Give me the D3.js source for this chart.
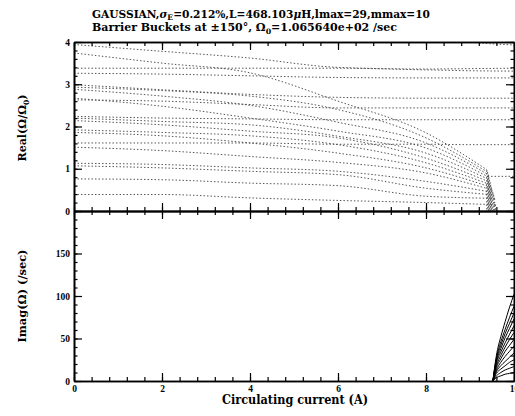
<!DOCTYPE html>
<html>
<head>
<style>
  body { margin: 0; background: #fff; }
  svg { display: block; }
  .tl text { font-family: "Liberation Serif", Times, serif; font-weight: bold; font-size: 9.5px; fill: #000; }
  .lbl { font-family: "DejaVu Serif", "Liberation Serif", serif; font-weight: bold; fill: #000; }
</style>
<script src="https://d3js.org/d3.v7.min.js"></script>
</head>
<body>
<script>
// mode frequencies vs circulating current
const currentGrid = [0, 2, 4, 6, 8, 9, 10];

// real parts that survive to 10 A
const realKept = [
  [4.70, 4.55, 4.40, 4.28, 4.15, 4.00, 3.93],
  [3.94, 3.78, 3.62, 3.40, 3.36, 3.37, 3.38],
  [3.38, 3.38, 3.38, 3.38, 3.34, 3.32, 3.31],
  [3.26, 3.24, 3.20, 3.16, 3.15, 3.15, 3.15],
  [2.99, 2.87, 2.76, 2.69, 2.67, 2.67, 2.67],
  [2.63, 2.60, 2.52, 2.44, 2.44, 2.44, 2.44],
  [2.24, 2.20, 2.18, 2.16, 2.16, 2.16, 2.16],
  [1.61, 1.61, 1.61, 1.58, 1.58, 1.57, 1.57]
];
const lateCurrent = [9.4, 10];
const lateValue = [0.82, 0.82];

// real parts that collapse near 9.5 A (values at 0,2,4,6,8 A)
const dropGrid = [0, 2, 4, 6, 8];
const realDropped = [
  [3.74, 3.50, 3.27, 2.60, 1.85],
  [2.93, 2.85, 2.72, 2.40, 1.73],
  [2.88, 2.72, 2.50, 2.10, 1.61],
  [2.67, 2.48, 2.20, 1.89, 1.49],
  [2.20, 2.12, 2.04, 1.77, 1.37],
  [2.14, 2.04, 1.89, 1.73, 1.25],
  [1.92, 1.86, 1.78, 1.57, 1.14],
  [1.86, 1.78, 1.61, 1.37, 1.02],
  [1.51, 1.43, 1.29, 1.15, 0.90],
  [1.13, 1.10, 1.02, 0.94, 0.70],
  [1.07, 1.02, 0.94, 0.86, 0.54],
  [0.76, 0.74, 0.66, 0.60, 0.35],
  [0.39, 0.39, 0.31, 0.25, 0.20]
];
const dropEndCurrent = [9.38, 9.40, 9.42, 9.43, 9.44, 9.46, 9.47, 9.49, 9.50, 9.52, 9.54, 9.56, 9.58];
const dropEndValue = [0.98, 0.92, 0.86, 0.80, 0.74, 0.68, 0.62, 0.56, 0.50, 0.44, 0.38, 0.30, 0.15];

// imaginary parts
const imagCurrent = [9.52, 9.6, 9.7, 9.8, 9.9, 10];
const imagValues = [
  [0, 30, 52, 70, 87, 102],
  [0, 27, 46, 61, 75, 88],
  [0, 25, 42, 56, 68, 80],
  [0, 23, 38, 51, 62, 73],
  [0, 21, 34, 45, 55, 65],
  [0, 18, 30, 40, 49, 57],
  [0, 16, 26, 35, 42, 49],
  [0, 13, 22, 29, 35, 41],
  [0, 11, 18, 23, 28, 33],
  [0, 9, 14, 18, 22, 25],
  [0, 6, 10, 13, 15, 17],
  [0, 4, 6, 8, 9, 10]
];

const xMajor = [0, 2, 4, 6, 8, 10];
const xMinor = d3.range(0, 10.01, 0.4);
const yTopMajor = [0, 1, 2, 3, 4];
const yTopMinor = d3.range(0, 4.01, 0.2);
const yBotMajor = [0, 50, 100, 150, 200];
const yBotLabels = [0, 50, 100, 150];
const yBotMinor = d3.range(0, 200.1, 10);

const svg = d3.select('body').append('svg')
  .attr('width', 515).attr('height', 416);

const x = d3.scaleLinear().domain([0, 10]).range([74, 514]);
const yTop = d3.scaleLinear().domain([0, 4]).range([211, 42]);
const yBot = d3.scaleLinear().domain([0, 200]).range([381, 211]);

svg.append('clipPath').attr('id', 'clipTop')
  .append('rect').attr('x', 74).attr('y', 42).attr('width', 440).attr('height', 169);

const topG = svg.append('g').attr('clip-path', 'url(#clipTop)');
const dotted = g => g.attr('fill', 'none').attr('stroke', '#444')
  .attr('stroke-width', 0.9).attr('stroke-dasharray', '1.5,2');

const lineTop = d3.line().x(d => x(d[0])).y(d => yTop(d[1])).curve(d3.curveMonotoneX);

realKept.forEach(vals => {
  topG.append('path').datum(currentGrid.map((c, i) => [c, vals[i]]))
    .attr('d', lineTop).call(dotted);
});
topG.append('path').datum(lateCurrent.map((c, i) => [c, lateValue[i]]))
  .attr('d', lineTop).call(dotted);

realDropped.forEach((vals, k) => {
  const pts = dropGrid.map((c, i) => [c, vals[i]]);
  pts.push([dropEndCurrent[k], dropEndValue[k]]);
  topG.append('path').datum(pts).attr('d', lineTop).call(dotted);
  topG.append('path')
    .datum([[dropEndCurrent[k], dropEndValue[k]], [dropEndCurrent[k], 0]])
    .attr('d', d3.line().x(d => x(d[0])).y(d => yTop(d[1])))
    .call(dotted);
});

const lineBot = d3.line().x(d => x(d[0])).y(d => yBot(d[1])).curve(d3.curveMonotoneX);
imagValues.forEach(vals => {
  svg.append('path').datum(imagCurrent.map((c, i) => [c, vals[i]]))
    .attr('d', lineBot).attr('fill', 'none').attr('stroke', '#000').attr('stroke-width', 1);
});

// axes, ticks pointing inward
const addAxis = (axis, tx, ty) => {
  const g = svg.append('g').attr('class', 'tl')
    .attr('transform', `translate(${tx},${ty})`).call(axis);
  g.selectAll('path.domain').attr('stroke-width', 1.6);
  g.selectAll('line').attr('stroke-width', 1.2);
  g.attr('font-family', null).attr('font-size', null);
  return g;
};
const noLabel = () => '';

// top panel
addAxis(d3.axisLeft(yTop).tickValues(yTopMinor).tickSize(-3.5).tickSizeOuter(0).tickFormat(noLabel), 74, 0);
addAxis(d3.axisLeft(yTop).tickValues(yTopMajor).tickSize(-8).tickSizeOuter(0).tickPadding(4).tickFormat(d3.format('d')), 74, 0);
addAxis(d3.axisRight(yTop).tickValues(yTopMinor).tickSize(-3.5).tickSizeOuter(0).tickFormat(noLabel), 514, 0);
addAxis(d3.axisRight(yTop).tickValues(yTopMajor).tickSize(-8).tickSizeOuter(0).tickFormat(noLabel), 514, 0);
addAxis(d3.axisTop(x).tickValues(xMinor).tickSize(-4).tickSizeOuter(0).tickFormat(noLabel), 0, 42);
addAxis(d3.axisTop(x).tickValues(xMajor).tickSize(-8).tickSizeOuter(0).tickFormat(noLabel), 0, 42);
addAxis(d3.axisBottom(x).tickValues(xMinor).tickSize(-4).tickSizeOuter(0).tickFormat(noLabel), 0, 211);
addAxis(d3.axisBottom(x).tickValues(xMajor).tickSize(-8).tickSizeOuter(0).tickFormat(noLabel), 0, 211);

// bottom panel
addAxis(d3.axisLeft(yBot).tickValues(yBotMinor).tickSize(-3.5).tickSizeOuter(0).tickFormat(noLabel), 74, 0);
addAxis(d3.axisLeft(yBot).tickValues(yBotMajor).tickSize(-8).tickSizeOuter(0).tickPadding(4)
  .tickFormat(d => yBotLabels.includes(d) ? d : ''), 74, 0);
addAxis(d3.axisRight(yBot).tickValues(yBotMinor).tickSize(-3.5).tickSizeOuter(0).tickFormat(noLabel), 514, 0);
addAxis(d3.axisRight(yBot).tickValues(yBotMajor).tickSize(-8).tickSizeOuter(0).tickFormat(noLabel), 514, 0);
addAxis(d3.axisTop(x).tickValues(xMinor).tickSize(-4).tickSizeOuter(0).tickFormat(noLabel), 0, 211);
addAxis(d3.axisTop(x).tickValues(xMajor).tickSize(-8).tickSizeOuter(0).tickFormat(noLabel), 0, 211);
addAxis(d3.axisBottom(x).tickValues(xMinor).tickSize(-4).tickSizeOuter(0).tickFormat(noLabel), 0, 381);
addAxis(d3.axisBottom(x).tickValues(xMajor).tickSize(-8).tickSizeOuter(0).tickPadding(4).tickFormat(d3.format('d')), 0, 381);

// titles
const t1 = svg.append('text').attr('class', 'lbl').attr('x', 92).attr('y', 17.5)
  .attr('font-size', 10.5)
  .attr('textLength', 338).attr('lengthAdjust', 'spacingAndGlyphs');
t1.append('tspan').text('GAUSSIAN,');
t1.append('tspan').attr('font-style', 'italic').text('σ');
t1.append('tspan').attr('font-size', 7.5).attr('dy', 2.5).text('E');
t1.append('tspan').attr('dy', -2.5).text('=0.212%,L=468.103');
t1.append('tspan').attr('font-style', 'italic').text('μ');
t1.append('tspan').text('H,lmax=29,mmax=10');

const t2 = svg.append('text').attr('class', 'lbl').attr('x', 92).attr('y', 31)
  .attr('font-size', 10.5)
  .attr('textLength', 305).attr('lengthAdjust', 'spacingAndGlyphs');
t2.append('tspan').text('Barrier Buckets at ±150°, Ω');
t2.append('tspan').attr('font-size', 7.5).attr('dy', 2.5).text('0');
t2.append('tspan').attr('dy', -2.5).text('=1.065640e+02 /sec');

const yl1 = svg.append('text').attr('class', 'lbl').attr('font-size', 11)
  .attr('text-anchor', 'middle').attr('transform', 'translate(26,128) rotate(-90)')
  .attr('textLength', 67).attr('lengthAdjust', 'spacingAndGlyphs');
yl1.append('tspan').text('Real(Ω/Ω');
yl1.append('tspan').attr('font-size', 7.5).attr('dy', 2.5).text('0');
yl1.append('tspan').attr('dy', -2.5).text(')');

svg.append('text').attr('class', 'lbl').attr('font-size', 11)
  .attr('text-anchor', 'middle').attr('transform', 'translate(26,296) rotate(-90)')
  .attr('textLength', 93).attr('lengthAdjust', 'spacingAndGlyphs')
  .text('Imag(Ω)  (/sec)');

svg.append('text').attr('class', 'lbl').attr('font-size', 12)
  .attr('text-anchor', 'middle').attr('x', 295).attr('y', 404)
  .attr('textLength', 146).attr('lengthAdjust', 'spacingAndGlyphs')
  .text('Circulating current (A)');
</script>
</body>
</html>
